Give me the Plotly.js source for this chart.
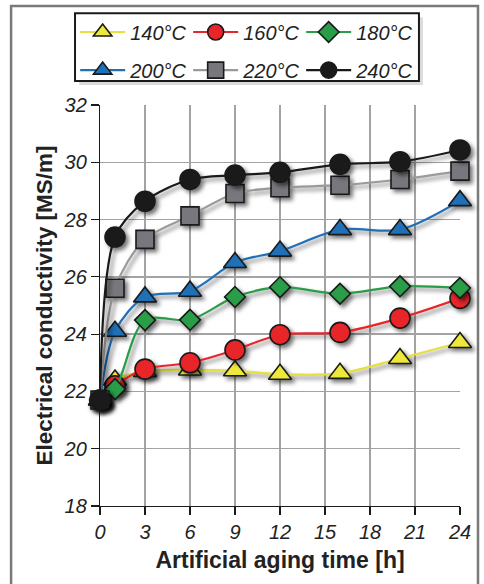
<!DOCTYPE html>
<html>
<head>
<meta charset="utf-8">
<script src="https://cdn.plot.ly/plotly-3.0.1.min.js"></script>
<style>
html,body{margin:0;padding:0;background:#fff;}
#chart{width:484px;height:584px;}
#chart .scatterlayer .trace{filter: drop-shadow(3px 3px 2px rgba(0,0,0,0.55));}
</style>
</head>
<body>
<div id="chart"></div>
<script>
// Aging time [h]
const agingTime = [0, 1, 3, 6, 9, 12, 16, 20, 24];

// Electrical conductivity [MS/m] per aging temperature
const series140 = [21.7, 22.4, 22.7, 22.75, 22.72, 22.6, 22.63, 23.15, 23.71];
const series160 = [21.7, 22.2, 22.78, 23.0, 23.45, 23.98, 24.06, 24.56, 25.25];
const series180 = [21.7, 22.08, 24.49, 24.5, 25.3, 25.64, 25.41, 25.67, 25.61];
const series200 = [21.7, 24.1, 25.3, 25.5, 26.5, 26.9, 27.65, 27.65, 28.66];
const series220 = [21.7, 25.6, 27.31, 28.13, 28.91, 29.11, 29.2, 29.4, 29.69];
const series240 = [21.7, 27.39, 28.64, 29.4, 29.55, 29.65, 29.93, 30.02, 30.43];

const seriesNames = ['140°C', '160°C', '180°C', '200°C', '220°C', '240°C'];
const xTickVals = [0, 3, 6, 9, 12, 15, 18, 21, 24];
const yTickVals = [18, 20, 22, 24, 26, 28, 30, 32];

const allSeries = [series140, series160, series180, series200, series220, series240];
const lineColors = ['#e6df3c', '#e8262a', '#2a9d48', '#2070b8', '#9a9a9a', '#1a1a1a'];
const fillColors = ['#eee83a', '#e8262a', '#2a9d48', '#2070b8', '#77777d', '#1a1a1a'];
const symbols = ['triangle-up', 'circle', 'diamond', 'triangle-up', 'square', 'circle'];
const sizes = [20, 20, 16, 20, 18, 20];
const legendRows = ['legend', 'legend', 'legend', 'legend2', 'legend2', 'legend2'];

const traces = allSeries.map((ys, i) => ({
  x: agingTime,
  y: ys,
  name: seriesNames[i],
  legend: legendRows[i],
  type: 'scatter',
  mode: 'lines+markers',
  cliponaxis: false,
  line: {color: lineColors[i], width: 2.2, shape: 'spline', smoothing: 0.9},
  marker: {symbol: symbols[i], size: sizes[i], color: fillColors[i],
           line: {color: '#1a1a1a', width: 1.6}}
}));

const legendBase = {
  orientation: 'h',
  xanchor: 'left', yanchor: 'middle',
  bgcolor: 'rgba(0,0,0,0)', borderwidth: 0,
  font: {size: 20, style: 'italic', color: '#222'},
  entrywidth: 53, entrywidthmode: 'pixels',
  itemwidth: 45
};

const frameColor = '#7a7a7a';
const layout = {
  width: 484, height: 584,
  margin: {l: 100, r: 24, t: 105, b: 78},
  paper_bgcolor: '#ffffff',
  plot_bgcolor: '#ffffff',
  font: {family: 'Liberation Sans, Arial, sans-serif', color: '#222'},
  showlegend: true,
  legend: Object.assign({}, legendBase, {x: -0.069, y: 1.182}),
  legend2: Object.assign({}, legendBase, {x: -0.069, y: 1.087}),
  xaxis: {
    range: [0, 24], tickvals: xTickVals, ticktext: xTickVals.map(String),
    ticks: 'outside', ticklen: 8, tickcolor: '#1a1a1a', tickwidth: 1.2,
    showline: true, linecolor: '#1a1a1a', linewidth: 1.2,
    showgrid: true, gridcolor: '#a3a3a3', gridwidth: 1.5,
    zeroline: false,
    tickfont: {size: 20, style: 'italic', color: '#222'},
    title: {text: 'Artificial aging time [h]', font: {size: 23, weight: 'bold', color: '#222'}, standoff: 9}
  },
  yaxis: {
    range: [18, 32], tickvals: yTickVals, ticktext: yTickVals.map(String),
    ticks: 'outside', ticklen: 8, tickcolor: '#1a1a1a', tickwidth: 1.2,
    showline: true, linecolor: '#1a1a1a', linewidth: 1.2,
    showgrid: true, gridcolor: '#a3a3a3', gridwidth: 1.5,
    zeroline: false,
    tickfont: {size: 20, style: 'italic', color: '#222'},
    title: {text: 'Electrical conductivity [MS/m]', font: {size: 22.5, weight: 'bold', color: '#222'}, standoff: 4}
  },
  shapes: [
    {type: 'rect', xref: 'paper', yref: 'paper', layer: 'below',
     x0: -0.247, x1: 1.05, y0: -0.25, y1: 1.247,
     line: {color: frameColor, width: 2.5}, fillcolor: 'rgba(0,0,0,0)'},
    {type: 'rect', xref: 'paper', yref: 'paper', layer: 'below',
     x0: -0.058, x1: 0.897, y0: 1.05, y1: 1.219,
     line: {width: 0}, fillcolor: 'rgba(0,0,0,0.14)'},
    {type: 'rect', xref: 'paper', yref: 'paper', layer: 'below',
     x0: -0.0694, x1: 0.886, y0: 1.06, y1: 1.229,
     line: {color: '#1a1a1a', width: 2}, fillcolor: '#ffffff'}
  ]
};

Plotly.newPlot('chart', traces, layout, {displayModeBar: false, staticPlot: true});
</script>
</body>
</html>
